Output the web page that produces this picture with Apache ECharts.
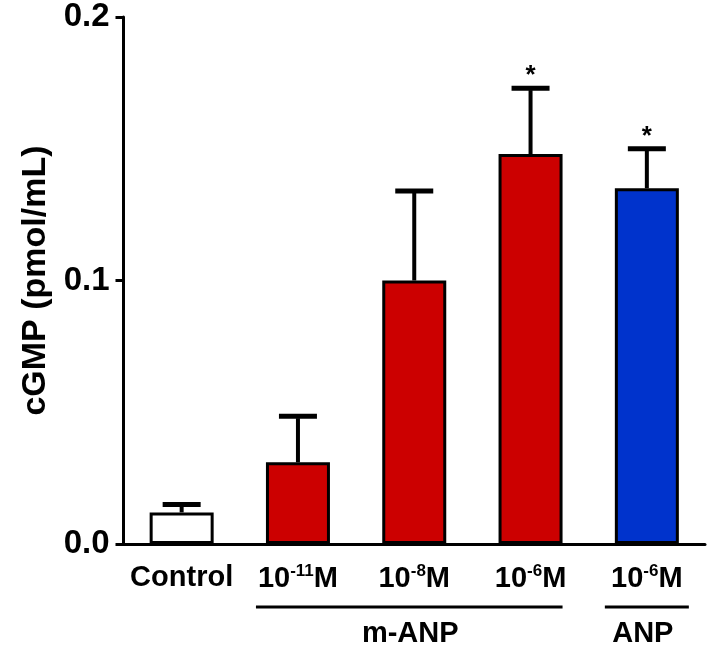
<!DOCTYPE html>
<html>
<head>
<meta charset="utf-8">
<script src="https://cdn.jsdelivr.net/npm/echarts@6/dist/echarts.min.js"></script>
<style>
html,body{margin:0;padding:0;background:#fff;}
#c{width:714px;height:657px;}
</style>
</head>
<body>
<div id="c"></div>
<script>
// ---- data ----
var categories = ['Control', 'm-ANP 1e-11', 'm-ANP 1e-8', 'm-ANP 1e-6', 'ANP 1e-6'];
var categoryLabels = ['Control', '10{sup|-11}M', '10{sup|-8}M', '10{sup|-6}M', '10{sup|-6}M'];
var means = [0.012, 0.031, 0.100, 0.148, 0.135];
var sems = [0.003, 0.0175, 0.034, 0.025, 0.015];
var significant = [false, false, false, true, true];
var barColors = ['#ffffff', '#cc0000', '#cc0000', '#cc0000', '#0033cc'];
var yTicks = [0.0, 0.1, 0.2];
var groups = [
  {name: 'm-ANP', from: 1, to: 3},
  {name: 'ANP', from: 4, to: 4}
];

var FONT = '"Liberation Sans", Arial, Helvetica, sans-serif';
var chart = echarts.init(document.getElementById('c'));

var option = {
  animation: false,
  backgroundColor: '#ffffff',
  grid: {left: 123.5, right: 9, top: 17, bottom: 113, containLabel: false},
  xAxis: {
    type: 'category',
    data: categories,
    axisLine: {show: true, lineStyle: {color: '#000', width: 3}},
    axisTick: {show: false},
    axisLabel: {
      interval: 0,
      margin: 19,
      formatter: function (v, i) { return categoryLabels[i]; },
      color: '#000',
      fontFamily: FONT,
      fontWeight: 'bold',
      fontSize: 29,
      rich: {
        sup: {fontSize: 17, fontWeight: 'bold', fontFamily: FONT, color: '#000', verticalAlign: 'top', padding: [0, 0, 14, 0]}
      }
    }
  },
  yAxis: {
    type: 'value',
    min: yTicks[0],
    max: yTicks[yTicks.length - 1],
    interval: yTicks[1] - yTicks[0],
    splitLine: {show: false},
    axisLine: {show: true, lineStyle: {color: '#000', width: 3}},
    axisTick: {show: true, length: 8, lineStyle: {color: '#000', width: 3}},
    axisLabel: {
      margin: 14,
      formatter: function (v) { return v.toFixed(1); },
      color: '#000', fontFamily: FONT, fontWeight: 'bold', fontSize: 33
    },
    name: 'cGMP (pmol/mL)',
    nameLocation: 'middle',
    nameGap: 70,
    nameTextStyle: {color: '#000', fontFamily: FONT, fontWeight: 'bold', fontSize: 34}
  },
  series: [
    {
      type: 'bar',
      barWidth: 64,
      data: means.map(function (m, i) {
        return {value: m, itemStyle: {color: barColors[i]}};
      }),
      itemStyle: {borderColor: '#000', borderWidth: 3},
      z: 2
    },
    {
      type: 'custom',
      z: 3,
      data: means.map(function (m, i) { return [i, m, sems[i], significant[i] ? 1 : 0]; }),
      renderItem: function (params, api) {
        var x = api.value(0), m = api.value(1), e = api.value(2), sig = api.value(3);
        var p0 = api.coord([x, m]);
        var p1 = api.coord([x, m + e]);
        var half = 19;
        var children = [
          {type: 'line', shape: {x1: p0[0], y1: p0[1], x2: p1[0], y2: p1[1] + 2}, style: {stroke: '#000', lineWidth: 4}},
          {type: 'line', shape: {x1: p1[0] - half, y1: p1[1], x2: p1[0] + half, y2: p1[1]}, style: {stroke: '#000', lineWidth: 5}}
        ];
        if (sig) {
          children.push({type: 'text', style: {text: '*', x: p1[0], y: p1[1] + 1, align: 'center', verticalAlign: 'bottom',
            fill: '#000', font: 'bold 26px ' + FONT}});
        }
        return {type: 'group', children: children};
      }
    }
  ]
};
chart.setOption(option);

// group annotations placed from axis coordinates
var graphics = [];
var lineY = 607;
groups.forEach(function (g) {
  var xa = chart.convertToPixel({xAxisIndex: 0}, g.from);
  var xb = chart.convertToPixel({xAxisIndex: 0}, g.to);
  var left = xa - 42, right = xb + (g.from === g.to ? 42 : 32);
  graphics.push({type: 'line', shape: {x1: left, y1: lineY, x2: right, y2: lineY}, style: {stroke: '#000', lineWidth: 3}});
  graphics.push({type: 'text', style: {text: g.name, x: (xa + xb) / 2 - 4, y: 634, align: 'center', verticalAlign: 'middle',
    fill: '#000', font: 'bold 29px ' + FONT}});
});
chart.setOption({graphic: graphics});
</script>
</body>
</html>
